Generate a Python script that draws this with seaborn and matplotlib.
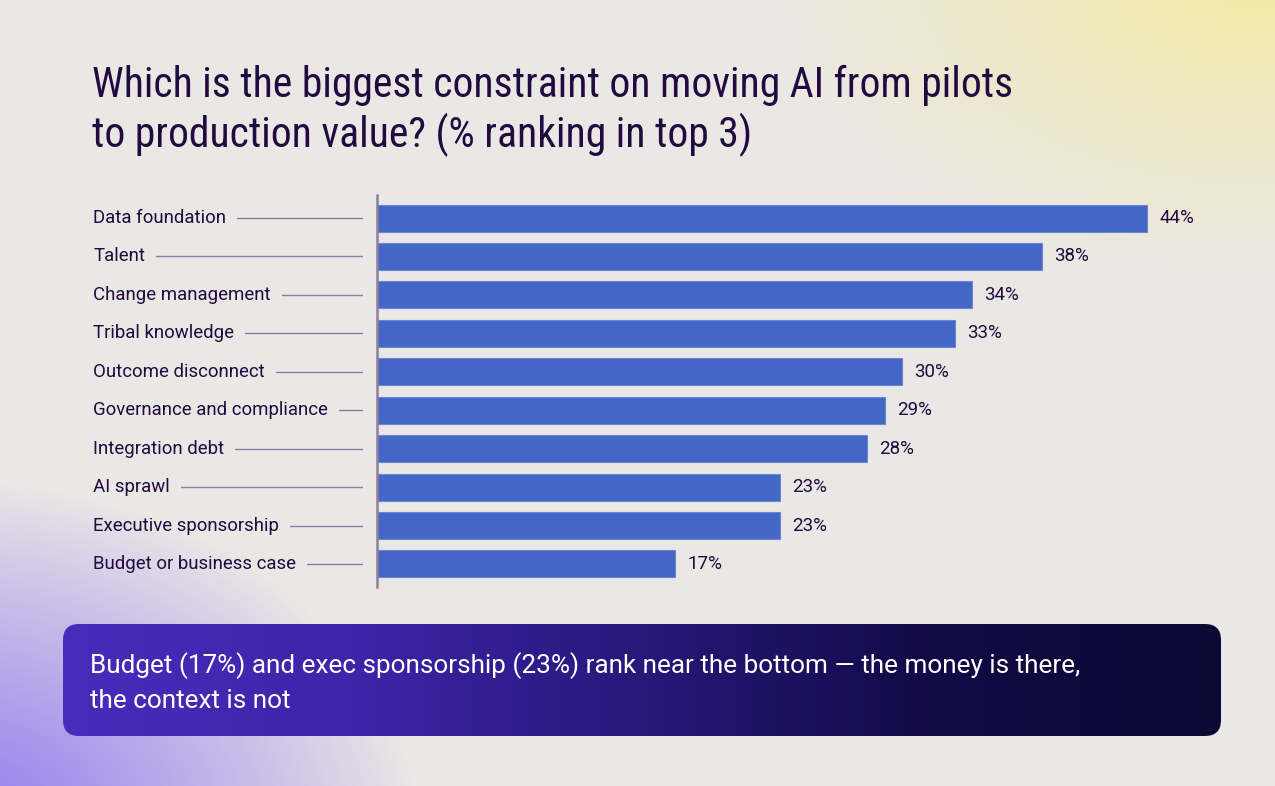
"""
Horizontal bar chart: biggest constraint on moving AI from pilots to production.

Writes out.png (1275x786).
"""

import numpy as np
import pandas as pd
import matplotlib.pyplot as plt
import seaborn as sns
from matplotlib.patches import FancyBboxPatch
from matplotlib.lines import Line2D
from matplotlib.colors import LinearSegmentedColormap
from matplotlib.transforms import blended_transform_factory

sns.set_theme(style="white")
plt.rcParams["font.family"] = ["Roboto", "DejaVu Sans"]

W, H = 1275, 786

CATEGORIES = [
    "Data foundation",
    "Talent",
    "Change management",
    "Tribal knowledge",
    "Outcome disconnect",
    "Governance and compliance",
    "Integration debt",
    "AI sprawl",
    "Executive sponsorship",
    "Budget or business case",
]
VALUES = [44, 38, 34, 33, 30, 29, 28, 23, 23, 17]

TITLE_LINES = ["Which is the biggest constraint on moving AI from pilots",
               "to production value? (% ranking in top 3)"]
CALLOUT_LINES = ["Budget (17%) and exec sponsorship (23%) rank near the bottom \u2014 the money is there,",
                 "the context is not"]

INK = "#22093f"
BAR = "#4466c6"
AXIS = "#8c809c"
TITLE_FONT = ["Roboto Condensed", "Liberation Sans Narrow", "Roboto", "DejaVu Sans"]

df = pd.DataFrame({"constraint": CATEGORIES, "pct": VALUES})

fig = plt.figure(figsize=(W / 100, H / 100), dpi=100)

# background, drawn in pixel coordinates
bg = fig.add_axes([0, 0, 1, 1], zorder=-5)
bg.set_xlim(0, W)
bg.set_ylim(H, 0)
bg.axis("off")
yy, xx = np.mgrid[0:H, 0:W]
img = np.ones((H, W, 3)) * np.array([0.918, 0.912, 0.900])
# yellow glow top right
d_y = np.sqrt(((xx - 1250) / 520) ** 2 + ((yy + 30) / 330) ** 2)
a_y = (np.clip(1 - d_y, 0, 1) ** 1.2 * 0.8)[..., None]
img = img * (1 - a_y) + np.array([0.96, 0.91, 0.56]) * a_y
# purple glow bottom left
d_p = np.sqrt(((xx + 60) / 480) ** 2 + ((yy - 840) / 360) ** 2)
a_p = (np.clip(1 - d_p, 0, 1) ** 0.9 * 0.9)[..., None]
img = img * (1 - a_p) + np.array([0.52, 0.40, 0.94]) * a_p
bg.imshow(np.clip(img, 0, 1), extent=(0, W, H, 0), aspect="auto", interpolation="bilinear")

# callout box with a left-to-right gradient
box = FancyBboxPatch((63, 624), 1158, 112, boxstyle="round,pad=0,rounding_size=16",
                     transform=bg.transData, facecolor="none", edgecolor="none")
bg.add_patch(box)
grad_cmap = LinearSegmentedColormap.from_list(
    "callout", ["#4a2bbb", "#3d24a8", "#27187a", "#120a45", "#0d0834"])
grad = np.linspace(0, 1, 512)[None, :]
gi = bg.imshow(grad, extent=(63, 1221, 736, 624), aspect="auto", cmap=grad_cmap,
               interpolation="bilinear")
gi.set_clip_path(box)
for line, base_y in zip(CALLOUT_LINES, [673, 708]):
    bg.text(90, base_y, line, color="white", fontsize=18.8, va="baseline", ha="left")

# title
for line, base_y in zip(TITLE_LINES, [97, 147]):
    fig.text(92 / W, 1 - base_y / H, line, fontsize=30, color=INK, va="baseline",
             ha="left", family=TITLE_FONT)

# bars
ax_left, ax_top, ax_bot = 377 / W, 1 - 195 / H, 1 - 587 / H
px_per_pct = 17.5
xmax = 50
ax = fig.add_axes([ax_left, ax_bot, xmax * px_per_pct / W, ax_top - ax_bot])
ax.patch.set_alpha(0)
sns.barplot(data=df, x="pct", y="constraint", orient="h", color=BAR, width=0.70,
            edgecolor="#6a86d4", linewidth=0.8, saturation=1, ax=ax)
ax.set_xlim(0, xmax)
ax.set_ylim(len(CATEGORIES) - 0.4, -0.6)
ax.set_xlabel("")
ax.set_ylabel("")
ax.set_xticks([])
ax.set_yticks([])
for s in ["top", "right", "bottom"]:
    ax.spines[s].set_visible(False)
ax.spines["left"].set_color(AXIS)
ax.spines["left"].set_linewidth(1.8)

ax.bar_label(ax.containers[0], labels=[f"{v}%" for v in VALUES], padding=9,
             fontsize=13.5, color=INK)

# category labels with leader lines
tr = blended_transform_factory(fig.transFigure, ax.transData)
fig.canvas.draw()
renderer = fig.canvas.get_renderer()
for i, name in enumerate(CATEGORIES):
    t = fig.text(93 / W, i, name, transform=tr, fontsize=13.4, color=INK,
                 va="center", ha="left")
    bb = t.get_window_extent(renderer=renderer)
    y_px = ax.transData.transform((0, i))[1]
    fig.add_artist(Line2D([(bb.x1 + 11) / W, 362 / W], [y_px / H, y_px / H],
                          transform=fig.transFigure, color="#8a7aa6", lw=1.0))

fig.savefig("out.png", dpi=100)
